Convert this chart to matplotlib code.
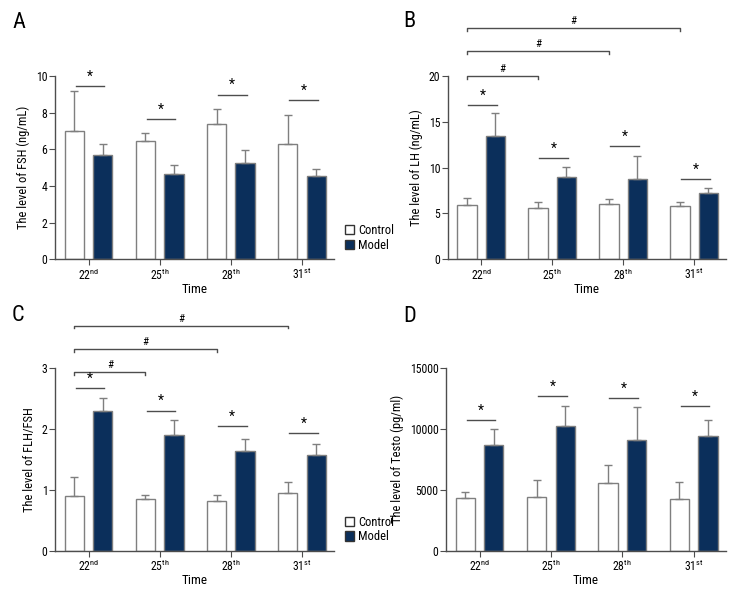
import numpy as np
import matplotlib.pyplot as plt
from matplotlib.patches import Patch

plt.rcParams['font.family'] = ['Roboto Condensed', 'Open Sans', 'DejaVu Sans']
plt.rcParams['mathtext.fontset'] = 'custom'
plt.rcParams['mathtext.rm'] = 'Roboto Condensed'

# datos
dias = ['22$^{\\mathrm{nd}}$', '25$^{\\mathrm{th}}$', '28$^{\\mathrm{th}}$', '31$^{\\mathrm{st}}$']

fsh_ctrl = [7.03, 6.48, 7.41, 6.32]
fsh_ctrl_err = [2.15, 0.42, 0.82, 1.58]
fsh_mod = [5.72, 4.63, 5.25, 4.52]
fsh_mod_err = [0.60, 0.54, 0.72, 0.43]
fsh_star = [9.47, 7.65, 9.0, 8.72]

lh_ctrl = [5.94, 5.61, 6.01, 5.76]
lh_ctrl_err = [0.73, 0.69, 0.55, 0.54]
lh_mod = [13.44, 9.0, 8.74, 7.21]
lh_mod_err = [2.55, 1.13, 2.59, 0.59]
lh_star = [16.87, 11.07, 12.39, 8.74]
lh_hash = [20.0, 22.73, 25.28]

ratio_ctrl = [0.90, 0.85, 0.81, 0.94]
ratio_ctrl_err = [0.31, 0.06, 0.10, 0.18]
ratio_mod = [2.30, 1.90, 1.63, 1.57]
ratio_mod_err = [0.21, 0.24, 0.20, 0.18]
ratio_star = [2.67, 2.30, 2.04, 1.93]
ratio_hash = [2.93, 3.31, 3.69]

testo_ctrl = [4344, 4426, 5546, 4208]
testo_ctrl_err = [492, 1394, 1503, 1393]
testo_mod = [8661, 10219, 9098, 9372]
testo_mod_err = [1284, 1612, 2705, 1366]
testo_star = [10738, 12650, 12514, 11831]

azul = '#0b2f5b'
gris = '#7f7f7f'
oscuro = '#4d4d4d'
ancho = 0.27
sep = 0.2

fig = plt.figure(figsize=(7.44, 6.0), dpi=100)
ax_a = fig.add_axes([0.074, 0.568, 0.375, 0.305])
ax_b = fig.add_axes([0.602, 0.568, 0.374, 0.305])
ax_c = fig.add_axes([0.074, 0.082, 0.375, 0.305])
ax_d = fig.add_axes([0.5995, 0.082, 0.376, 0.305])


def panel(ax, ctrl, ctrl_err, mod, mod_err, star, hashes, ylim, yticks, ylabel, leyenda):
    x = np.arange(len(dias))
    ax.bar(x - sep, ctrl, ancho, color='white', edgecolor=gris, linewidth=1)
    ax.bar(x + sep, mod, ancho, color=azul, edgecolor=gris, linewidth=1)
    ax.errorbar(x - sep, ctrl, yerr=[np.zeros(4), ctrl_err], fmt='none',
                ecolor=gris, elinewidth=1, capsize=3, capthick=1)
    ax.errorbar(x + sep, mod, yerr=[np.zeros(4), mod_err], fmt='none',
                ecolor=gris, elinewidth=1, capsize=3, capthick=1)
    rng = ylim[1] - ylim[0]
    for i in range(4):
        ax.plot([x[i] - 0.18, x[i] + 0.22], [star[i], star[i]], color=oscuro, lw=1, clip_on=False)
        ax.text(x[i] + 0.02, star[i] + rng * 0.012, '*', ha='center', va='bottom', fontsize=10)
    # corchetes con #
    for k, h in enumerate(hashes):
        x0 = x[0] - sep
        x1 = x[k + 1] - sep
        d = rng * 0.015
        ax.plot([x0, x0, x1, x1], [h - d, h, h, h - d], color=oscuro, lw=1, clip_on=False)
        ax.text((x0 + x1) / 2, h + rng * 0.012, '#', ha='center', va='bottom', fontsize=8)
    ax.set_xlim(-0.47, 3.45)
    ax.set_ylim(*ylim)
    ax.set_yticks(yticks)
    ax.set_xticks(x)
    ax.set_xticklabels(dias)
    ax.set_ylabel(ylabel, fontsize=9, labelpad=4)
    ax.set_xlabel('Time', fontsize=9.5, labelpad=0)
    ax.spines['top'].set_visible(False)
    ax.spines['right'].set_visible(False)
    for s in ['left', 'bottom']:
        ax.spines[s].set_color(oscuro)
        ax.spines[s].set_linewidth(1)
    ax.tick_params(axis='both', labelsize=8.5, length=4, color=oscuro, pad=1.5)
    if leyenda:
        ax.legend(handles=[Patch(facecolor='white', edgecolor='#333333', label='Control'),
                           Patch(facecolor=azul, edgecolor='#333333', label='Model')],
                  loc='upper left', bbox_to_anchor=(1.02, 0.22), frameon=False,
                  fontsize=9, handlelength=0.75, handleheight=0.75, handletextpad=0.3,
                  labelspacing=0.15, borderaxespad=0)


panel(ax_a, fsh_ctrl, fsh_ctrl_err, fsh_mod, fsh_mod_err, fsh_star, [],
      (0, 10), [0, 2, 4, 6, 8, 10], 'The level of FSH (ng/mL)', True)
panel(ax_b, lh_ctrl, lh_ctrl_err, lh_mod, lh_mod_err, lh_star, lh_hash,
      (0, 20), [0, 5, 10, 15, 20], 'The level of LH (ng/mL)', False)
panel(ax_c, ratio_ctrl, ratio_ctrl_err, ratio_mod, ratio_mod_err, ratio_star, ratio_hash,
      (0, 3), [0, 1, 2, 3], 'The level of FLH/FSH', True)
panel(ax_d, testo_ctrl, testo_ctrl_err, testo_mod, testo_mod_err, testo_star, [],
      (0, 15000), [0, 5000, 10000, 15000], 'The level of Testo (pg/ml)', False)

# letras de los paneles
fig.text(12 / 744, 1 - 28 / 600, 'A', fontsize=16, va='baseline')
fig.text(403 / 744, 1 - 27 / 600, 'B', fontsize=16, va='baseline')
fig.text(12 / 744, 1 - 321 / 600, 'C', fontsize=16, va='baseline')
fig.text(403 / 744, 1 - 322 / 600, 'D', fontsize=16, va='baseline')

fig.savefig('out.png', dpi=100)
